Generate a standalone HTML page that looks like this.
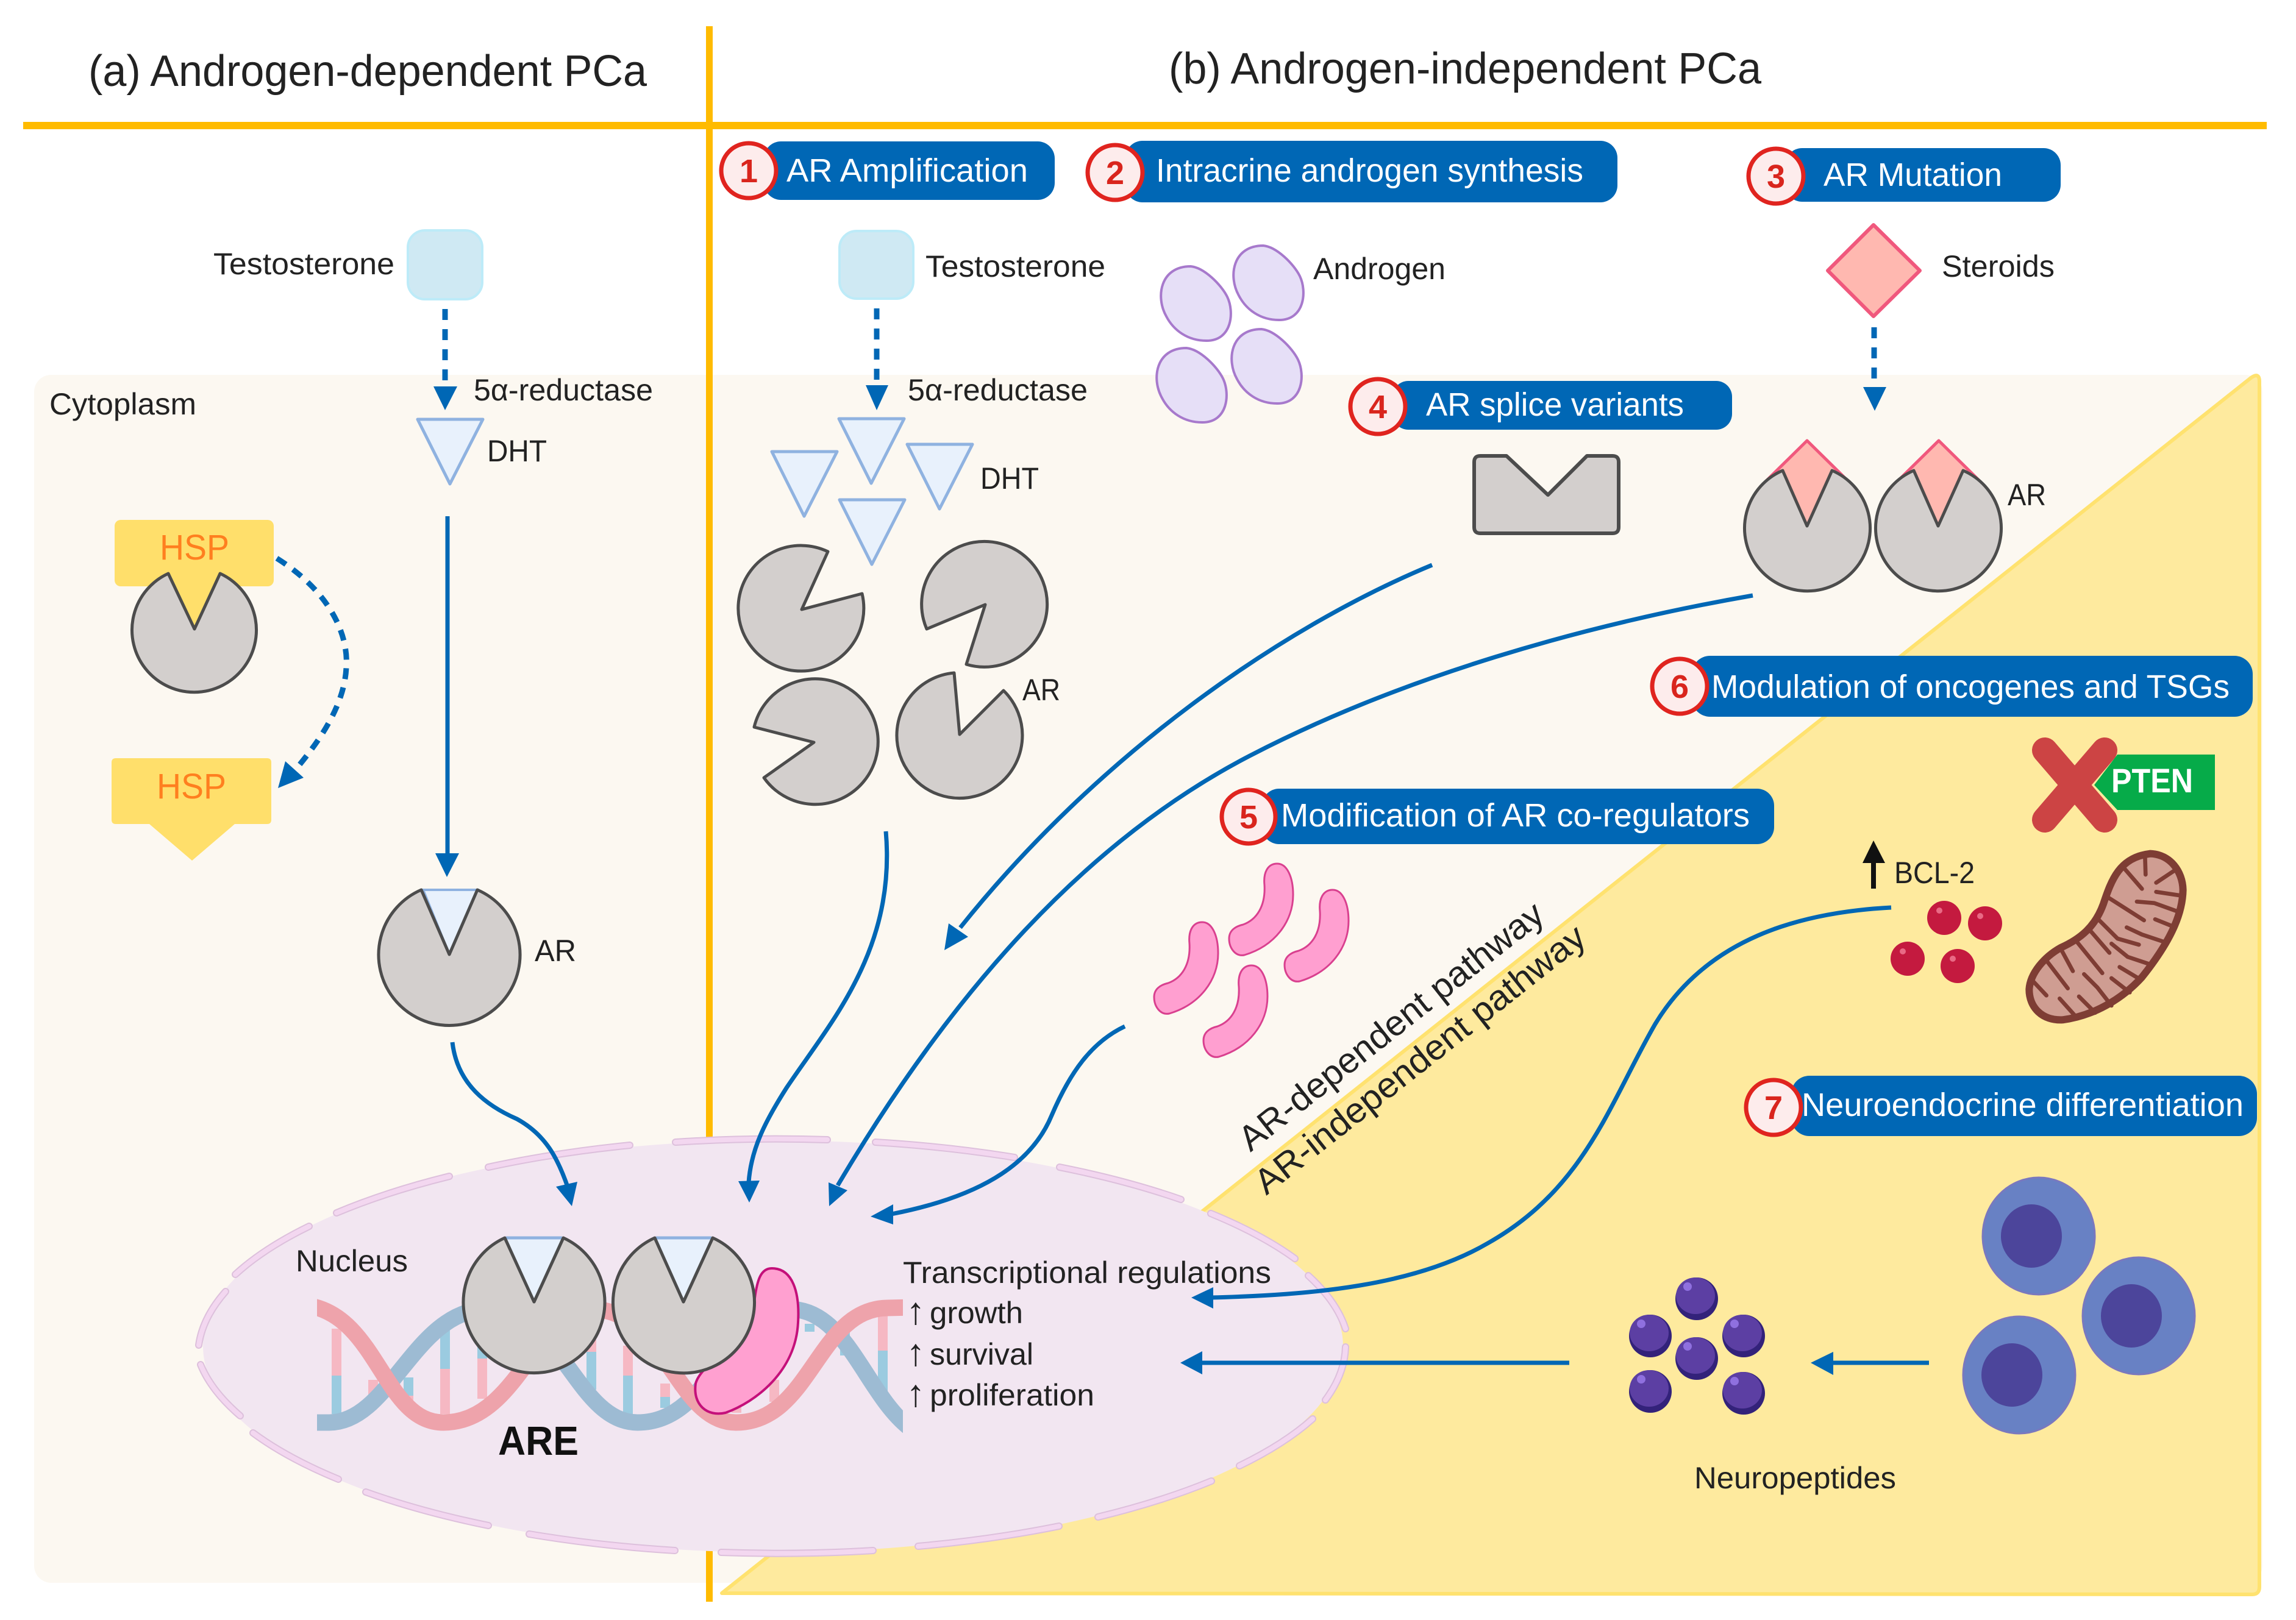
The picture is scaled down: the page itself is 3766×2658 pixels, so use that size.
<!DOCTYPE html>
<html><head><meta charset="utf-8"><style>html,body{margin:0;padding:0;background:#fff}svg{display:block}text{font-family:"Liberation Sans",sans-serif;fill:#222}.w{fill:#fff}.n{fill:#D9251D;font-weight:700;font-size:54px;text-anchor:middle}.b{stroke:#0067B5;stroke-width:7;fill:none}.h{fill:#0067B5}</style></head><body>
<svg xmlns="http://www.w3.org/2000/svg" width="3766" height="2658" viewBox="0 0 3766 2658">
<defs>
<path id="blob" d="M50,0 C72,2 100,30 110,50 C122,75 118,122 76,122 C45,122 22,105 10,82 C-8,50 0,0 50,0Z" fill="#E6DFF7" stroke="#A779CC" stroke-width="4"/>
<path id="worm" d="M79,0 C95,0 105,22 105,51 C105,95 75,135 25,150 C10,153 0,138 0,123 C0,110 10,103 23,100 C45,92 60,70 58,35 C56,15 63,0 79,0Z" fill="#FF9FD0" stroke="#D9408F" stroke-width="3"/>
<g id="sph"><circle r="35" fill="#33227A"/><ellipse cx="-2" cy="-5" rx="32" ry="30" fill="#5C3FA3"/><circle cx="-15" cy="-20" r="7" fill="#8F70DF"/></g>
<g id="red"><circle r="28" fill="#C41A3F"/><circle cx="-8" cy="-12" r="5" fill="#E96A85"/></g>
<g id="cell"><ellipse rx="92" ry="96" fill="#6881C4" stroke="#7A78BE" stroke-width="3"/><ellipse cx="-12" cy="0" rx="50" ry="52" fill="#4C459B"/></g>
<path id="tri" d="M0,0H107L53,106Z" fill="#E8F1FC" stroke="#8FB2E0" stroke-width="5" stroke-linejoin="round"/>
<clipPath id="dnaclip"><rect x="520" y="2100" width="961" height="280"/></clipPath>
</defs>

<!-- panels -->
<rect x="56" y="615" width="3655" height="1982" rx="28" fill="#FCF8F1"/>
<rect x="38" y="200" width="3680" height="12" fill="#FFBB00"/>
<rect x="1158" y="43" width="11" height="2585" fill="#FFBB00"/>
<path d="M1184,2614 L3692,620 Q3706,610 3706,626 V2604 Q3706,2616 3694,2616Z" fill="#FEEA9E" stroke="#FFE26F" stroke-width="6" stroke-linejoin="round"/>

<!-- titles -->
<text x="145" y="141" font-size="72" textLength="916" lengthAdjust="spacingAndGlyphs">(a) Androgen-dependent PCa</text>
<text x="1917" y="137" font-size="72" textLength="972" lengthAdjust="spacingAndGlyphs">(b) Androgen-independent PCa</text>

<!-- nucleus -->
<ellipse cx="1268" cy="2209" rx="935" ry="338" fill="#F2E6F1"/>
<g fill="none" stroke="#DDC0DC" stroke-width="12" stroke-linecap="round">
<path d="M1108,1874A945 345 0 0 1 1357,1870M1436,1874A945 345 0 0 1 1664,1899M1738,1915A945 345 0 0 1 1937,1968M1986,1991A945 345 0 0 1 2124,2065M2146,2093A945 345 0 0 1 2207,2180M2207,2210A945 345 0 0 1 2174,2297M2153,2328A945 345 0 0 1 2033,2405M1987,2430A945 345 0 0 1 1801,2489M1737,2504A945 345 0 0 1 1506,2537M1432,2544A945 345 0 0 1 1183,2547M1107,2544A945 345 0 0 1 868,2517M801,2503A945 345 0 0 1 600,2448M555,2427A945 345 0 0 1 415,2351M394,2323A945 345 0 0 1 329,2239M326,2207A945 345 0 0 1 370,2119M386,2091A945 345 0 0 1 507,2012M552,1990A945 345 0 0 1 737,1930M801,1915A945 345 0 0 1 1033,1879"/>
</g>
<g fill="none" stroke="#F3D7F0" stroke-width="8" stroke-linecap="round">
<path d="M1108,1874A945 345 0 0 1 1357,1870M1436,1874A945 345 0 0 1 1664,1899M1738,1915A945 345 0 0 1 1937,1968M1986,1991A945 345 0 0 1 2124,2065M2146,2093A945 345 0 0 1 2207,2180M2207,2210A945 345 0 0 1 2174,2297M2153,2328A945 345 0 0 1 2033,2405M1987,2430A945 345 0 0 1 1801,2489M1737,2504A945 345 0 0 1 1506,2537M1432,2544A945 345 0 0 1 1183,2547M1107,2544A945 345 0 0 1 868,2517M801,2503A945 345 0 0 1 600,2448M555,2427A945 345 0 0 1 415,2351M394,2323A945 345 0 0 1 329,2239M326,2207A945 345 0 0 1 370,2119M386,2091A945 345 0 0 1 507,2012M552,1990A945 345 0 0 1 737,1930M801,1915A945 345 0 0 1 1033,1879"/>
</g>

<!-- DNA rungs -->
<g stroke-width="16" fill="none">
<g stroke="#F6B8C3"><path d="M552,2180V2257M730,2246V2320M791,2229V2295M970,2198V2218M1030,2208V2257M1091,2270V2292M1448,2157V2216M1270,2264V2300M1208,2305V2318M1386,2172V2182M612,2264V2290M670,2290V2310"/></g>
<g stroke="#9BCBE0"><path d="M552,2257V2320M730,2172V2246M791,2208V2229M970,2218V2280M1030,2257V2320M1091,2292V2310M1448,2216V2305M1386,2182V2224M1328,2172V2185M612,2290V2305M670,2260V2290"/></g>
</g>
<!-- DNA strands -->
<g clip-path="url(#dnaclip)" fill="none" stroke-width="27">
<path d="M505,2334 L540,2334 C640,2334 680,2148 800,2148 C920,2148 945,2334 1046,2334 C1170,2334 1190,2148 1295,2148 C1390,2148 1420,2290 1495,2345" stroke="#9DBBD3"/>
<path d="M505,2142 C620,2160 630,2334 727,2334 C850,2334 880,2148 970,2148 C1090,2148 1110,2334 1207,2334 C1330,2334 1340,2148 1455,2146 L1495,2145" stroke="#EEA3AB"/>
</g>

<!-- coregulator on DNA -->
<path d="M1266,2081 C1300,2081 1312,2120 1309,2170 C1305,2250 1240,2300 1190,2318 C1160,2325 1136,2305 1141,2270 C1150,2235 1225,2205 1238,2130 C1242,2100 1248,2081 1266,2081Z" fill="#FFA0D0" stroke="#C4107A" stroke-width="4"/>

<!-- bound ARs -->
<g fill="#D3CFCD" stroke="#4C4C4C" stroke-width="5" stroke-linejoin="round">
<path d="M876,2136L924,2031A116 116 0 1 1 828,2031Z"/>
<path d="M1121,2136L1169,2031A116 116 0 1 1 1074,2031Z"/>
</g>
<g fill="#E8F1FC"><path d="M828,2031H924L876,2136Z"/><path d="M1074,2031H1169L1121,2136Z"/></g>
<g stroke="#8FB2E0" stroke-width="5"><path d="M830,2031H922M1076,2031H1167"/></g>
<g fill="none" stroke="#4C4C4C" stroke-width="5" stroke-linejoin="round"><path d="M828,2031L876,2136L924,2031M1074,2031L1121,2136L1169,2031"/></g>
<text x="485" y="2086" font-size="50" textLength="184" lengthAdjust="spacingAndGlyphs">Nucleus</text>
<text x="817" y="2387" font-size="67" font-weight="700" textLength="132" lengthAdjust="spacingAndGlyphs" style="fill:#111">ARE</text>
<text x="1481" y="2105" font-size="50" textLength="604" lengthAdjust="spacingAndGlyphs">Transcriptional regulations</text>
<text x="1502" y="2172" font-size="62" text-anchor="middle">↑</text><text x="1525" y="2171" font-size="50" textLength="153" lengthAdjust="spacingAndGlyphs">growth</text>
<text x="1502" y="2240" font-size="62" text-anchor="middle">↑</text><text x="1525" y="2239" font-size="50" textLength="170" lengthAdjust="spacingAndGlyphs">survival</text>
<text x="1502" y="2307" font-size="62" text-anchor="middle">↑</text><text x="1525" y="2306" font-size="50" textLength="270" lengthAdjust="spacingAndGlyphs">proliferation</text>

<!-- left column -->
<rect x="669" y="378" width="122" height="113" rx="28" fill="#CFE9F3" stroke="#BDEBF8" stroke-width="4"/>
<text x="350" y="450" font-size="50" textLength="297" lengthAdjust="spacingAndGlyphs">Testosterone</text>
<path d="M730,507V628" stroke="#0067B5" stroke-width="9" stroke-dasharray="18 15" fill="none"/>
<path d="M711,634H750L730,673Z" class="h"/>
<text x="777" y="657" font-size="50" textLength="294" lengthAdjust="spacingAndGlyphs">5α-reductase</text>
<text x="81" y="680" font-size="50" textLength="241" lengthAdjust="spacingAndGlyphs">Cytoplasm</text>
<use href="#tri" x="685" y="688"/>
<text x="799" y="757" font-size="50" textLength="98" lengthAdjust="spacingAndGlyphs">DHT</text>
<path d="M734,847V1405" class="b"/>
<path d="M714,1400H753L733,1439Z" class="h"/>

<rect x="188" y="853" width="261" height="109" rx="10" fill="#FFDF6B"/>
<path d="M276,941L319,1032L361,941Z" fill="#FFDF6B"/>
<path d="M319,1032L361,941A102 102 0 1 1 276,941Z" fill="#D3CFCD" stroke="#4C4C4C" stroke-width="5" stroke-linejoin="round"/>
<text x="262" y="918" font-size="58" style="fill:#FF7F1F" textLength="114" lengthAdjust="spacingAndGlyphs">HSP</text>
<path d="M454,916 C540,970 572,1040 568,1095 C565,1160 520,1220 487,1260" fill="none" stroke="#0067B5" stroke-width="9" stroke-dasharray="18 14"/>
<path d="M456,1293L468,1249L498,1276Z" class="h"/>
<path d="M190,1244H438Q445,1244 445,1251V1345Q445,1352 438,1352H385L315,1412L245,1352H190Q183,1352 183,1345V1251Q183,1244 190,1244Z" fill="#FFDF6B"/>
<text x="257" y="1310" font-size="58" style="fill:#FF7F1F" textLength="114" lengthAdjust="spacingAndGlyphs">HSP</text>

<path d="M694,1460H783L737,1566Z" fill="#E8F1FC" stroke="#8FB2E0" stroke-width="4"/>
<path d="M737,1566L783,1460A116 116 0 1 1 691,1460Z" fill="#D3CFCD" stroke="#4C4C4C" stroke-width="5" stroke-linejoin="round"/>
<text x="877" y="1577" font-size="50" textLength="68" lengthAdjust="spacingAndGlyphs">AR</text>
<path d="M742,1710 C750,1780 800,1815 848,1836 C895,1862 915,1900 932,1950" class="b"/>
<path d="M938,1979L912,1947L947,1939Z" class="h"/>

<!-- pills -->
<rect x="1253" y="232" width="477" height="96" rx="28" class="h"/>
<circle cx="1228" cy="280" r="45" fill="#FDECEC" stroke="#E0241F" stroke-width="7"/>
<text x="1228" y="299" class="n" style="fill:#D9251D">1</text>
<text x="1290" y="298" font-size="54" textLength="396" lengthAdjust="spacingAndGlyphs" style="fill:#fff">AR Amplification</text>

<rect x="1846" y="231" width="807" height="101" rx="28" class="h"/>
<circle cx="1829" cy="283" r="45" fill="#FDECEC" stroke="#E0241F" stroke-width="7"/>
<text x="1829" y="302" class="n" style="fill:#D9251D">2</text>
<text x="1896" y="298" font-size="54" textLength="701" lengthAdjust="spacingAndGlyphs" style="fill:#fff">Intracrine androgen synthesis</text>

<rect x="2928" y="243" width="452" height="88" rx="28" class="h"/>
<circle cx="2913" cy="289" r="45" fill="#FDECEC" stroke="#E0241F" stroke-width="7"/>
<text x="2913" y="308" class="n" style="fill:#D9251D">3</text>
<text x="2991" y="305" font-size="54" textLength="293" lengthAdjust="spacingAndGlyphs" style="fill:#fff">AR Mutation</text>

<rect x="2284" y="625" width="557" height="80" rx="26" class="h"/>
<circle cx="2260" cy="667" r="45" fill="#FDECEC" stroke="#E0241F" stroke-width="7"/>
<text x="2260" y="686" class="n" style="fill:#D9251D">4</text>
<text x="2339" y="682" font-size="54" textLength="423" lengthAdjust="spacingAndGlyphs" style="fill:#fff">AR splice variants</text>

<rect x="2070" y="1294" width="840" height="91" rx="28" class="h"/>
<circle cx="2048" cy="1340" r="44" fill="#FDECEC" stroke="#E0241F" stroke-width="7"/>
<text x="2048" y="1359" class="n" style="fill:#D9251D">5</text>
<text x="2101" y="1356" font-size="54" textLength="769" lengthAdjust="spacingAndGlyphs" style="fill:#fff">Modification of AR co-regulators</text>

<rect x="2775" y="1076" width="920" height="100" rx="30" class="h"/>
<circle cx="2755" cy="1126" r="45" fill="#FDECEC" stroke="#E0241F" stroke-width="7"/>
<text x="2755" y="1145" class="n" style="fill:#D9251D">6</text>
<text x="2807" y="1145" font-size="54" textLength="850" lengthAdjust="spacingAndGlyphs" style="fill:#fff">Modulation of oncogenes and TSGs</text>

<rect x="2938" y="1765" width="764" height="99" rx="30" class="h"/>
<circle cx="2909" cy="1817" r="45" fill="#FDECEC" stroke="#E0241F" stroke-width="7"/>
<text x="2909" y="1836" class="n" style="fill:#D9251D">7</text>
<text x="2955" y="1831" font-size="54" textLength="725" lengthAdjust="spacingAndGlyphs" style="fill:#fff">Neuroendocrine differentiation</text>

<!-- column 1 -->
<rect x="1377" y="379" width="121" height="111" rx="28" fill="#CFE9F3" stroke="#BDEBF8" stroke-width="4"/>
<text x="1518" y="454" font-size="50" textLength="295" lengthAdjust="spacingAndGlyphs">Testosterone</text>
<path d="M1438,506V626" stroke="#0067B5" stroke-width="9" stroke-dasharray="18 15" fill="none"/>
<path d="M1420,632H1457L1438,673Z" class="h"/>
<text x="1489" y="657" font-size="50" textLength="295" lengthAdjust="spacingAndGlyphs">5α-reductase</text>
<use href="#tri" x="1376" y="687"/><use href="#tri" x="1266" y="741"/><use href="#tri" x="1488" y="729"/><use href="#tri" x="1377" y="820"/>
<text x="1608" y="802" font-size="50" textLength="96" lengthAdjust="spacingAndGlyphs">DHT</text>
<g fill="#D3CFCD" stroke="#4C4C4C" stroke-width="5" stroke-linejoin="round">
<path d="M1315,1000L1414,974A103 103 0 1 1 1358,905Z"/>
<path d="M1616,992L1520,1032A103 103 0 1 1 1585,1090Z"/>
<path d="M1335,1218L1237,1193A103 103 0 1 1 1253,1276Z"/>
<path d="M1574,1205L1646,1133A103 103 0 1 1 1565,1104Z"/>
</g>
<text x="1677" y="1149" font-size="50" textLength="62" lengthAdjust="spacingAndGlyphs">AR</text>
<path d="M1453,1364 C1470,1560 1360,1680 1290,1785 C1255,1840 1232,1885 1228,1940" class="b"/>
<path d="M1229,1973L1211,1938L1246,1937Z" class="h"/>

<!-- androgen -->
<use href="#blob" x="1903" y="437"/><use href="#blob" x="2022" y="403"/><use href="#blob" x="1896" y="571"/><use href="#blob" x="2019" y="540"/>
<text x="2154" y="458" font-size="50" textLength="217" lengthAdjust="spacingAndGlyphs">Androgen</text>

<!-- splice -->
<path d="M2428,748H2471L2539,812L2603,748H2645Q2655,748 2655,758V865Q2655,875 2645,875H2428Q2418,875 2418,865V758Q2418,748 2428,748Z" fill="#D3CFCD" stroke="#4C4C4C" stroke-width="6" stroke-linejoin="round"/>
<path d="M2349,927 C2100,1030 1800,1240 1575,1522" class="b"/>
<path d="M1549,1559L1556,1515L1588,1537Z" class="h"/>
<path d="M2875,977 C2600,1025 2300,1110 2050,1240 C1780,1380 1560,1630 1374,1945" class="b"/>
<path d="M1360,1979L1359,1940L1390,1953Z" class="h"/>

<!-- AR mutation -->
<path d="M3073,369L3149,444L3073,519L2998,444Z" fill="#FFB8B0" stroke="#F0587D" stroke-width="6" stroke-linejoin="round"/>
<text x="3185" y="454" font-size="50" textLength="185" lengthAdjust="spacingAndGlyphs">Steroids</text>
<path d="M3074,537V628" stroke="#0067B5" stroke-width="9" stroke-dasharray="18 15" fill="none"/>
<path d="M3056,635H3094L3075,674Z" class="h"/>
<g fill="#FFB8B0" stroke="#F0587D" stroke-width="5" stroke-linejoin="round"><path d="M2964,723L3030,788L2964,863L2898,788Z"/><path d="M3180,723L3246,788L3180,863L3114,788Z"/></g>
<g fill="#D3CFCD" stroke="#4C4C4C" stroke-width="5" stroke-linejoin="round">
<path d="M2964,863L3005,772A103 103 0 1 1 2924,772Z"/>
<path d="M3179,863L3220,772A103 103 0 1 1 3139,772Z"/>
</g>
<text x="3293" y="829" font-size="50" textLength="63" lengthAdjust="spacingAndGlyphs">AR</text>

<!-- worms -->
<use href="#worm" x="2016" y="1417"/><use href="#worm" x="1893" y="1513"/><use href="#worm" x="2107" y="1460"/><use href="#worm" x="1974" y="1584"/>
<path d="M1845,1684 C1790,1710 1755,1760 1725,1830 C1690,1915 1600,1965 1462,1992" class="b"/>
<path d="M1428,1996L1465,1976L1465,2009Z" class="h"/>

<!-- rotated -->
<text transform="translate(2051,1891) rotate(-38.3)" font-size="58" textLength="619" lengthAdjust="spacingAndGlyphs">AR-dependent pathway</text>
<text transform="translate(2077,1962) rotate(-38.3)" font-size="58" textLength="673" lengthAdjust="spacingAndGlyphs">AR-independent pathway</text>

<!-- PTEN -->
<g stroke="#CC4444" stroke-width="42" stroke-linecap="round"><path d="M3354,1231L3452,1345M3452,1231L3354,1345"/></g>
<path d="M3473,1238H3633V1329H3473L3435,1288Z" fill="#06AB49"/>
<text x="3463" y="1300" font-size="56" font-weight="700" textLength="134" lengthAdjust="spacingAndGlyphs" style="fill:#fff">PTEN</text>

<!-- BCL-2 -->
<path d="M3073,1458V1412" stroke="#111" stroke-width="8"/>
<path d="M3073,1379L3092,1416H3055Z" fill="#111"/>
<text x="3107" y="1449" font-size="50" textLength="132" lengthAdjust="spacingAndGlyphs">BCL-2</text>
<use href="#red" x="3189" y="1506"/><use href="#red" x="3256" y="1515"/><use href="#red" x="3129" y="1573"/><use href="#red" x="3211" y="1585"/>
<path d="M3102,1489 C2950,1497 2800,1540 2715,1680 C2640,1810 2600,1950 2440,2040 C2320,2110 2150,2125 1985,2129" class="b"/>
<path d="M1954,2129L1990,2112V2147Z" class="h"/>

<!-- mitochondrion -->
<g transform="translate(3300,1380) scale(0.3333)">
<path d="M680,62 C780,65 840,150 842,240 C840,340 800,470 640,670 C540,780 400,860 250,880 C150,885 85,820 85,730 C90,650 160,570 240,525 C340,480 410,420 450,310 C490,190 530,80 680,62Z" fill="#CF9D92" stroke="#7E3D34" stroke-width="36" stroke-linejoin="round"/>
<g fill="none" stroke="#7E3D34" stroke-width="20" stroke-linecap="round" stroke-linejoin="round">
<path d="M655,70L658,165M710,205L800,145M545,125L640,235M710,250L830,268M615,298L700,305L825,350M470,275L650,390M705,385L805,425M565,425L640,460L760,500M425,385L520,480L625,510M490,505L570,570L690,610M385,440L480,550M315,490L445,650M530,620L630,680M235,520L300,640M355,655L420,720L490,810M490,675L580,745M160,575L275,725M330,765L410,845M235,775L320,870M95,680L170,760"/>
</g>
</g>

<!-- neuropeptides -->
<use href="#sph" x="2783" y="2131"/><use href="#sph" x="2707" y="2192"/><use href="#sph" x="2860" y="2192"/><use href="#sph" x="2783" y="2229"/><use href="#sph" x="2707" y="2283"/><use href="#sph" x="2860" y="2286"/>
<text x="2779" y="2442" font-size="50" textLength="331" lengthAdjust="spacingAndGlyphs">Neuropeptides</text>
<path d="M2574,2236H1965" class="b"/>
<path d="M1936,2236L1972,2217V2255Z" class="h"/>
<path d="M3164,2236H3000" class="b"/>
<path d="M2970,2236L3007,2218V2256Z" class="h"/>
<use href="#cell" x="3344" y="2028"/><use href="#cell" x="3508" y="2159"/><use href="#cell" x="3312" y="2256"/>
</svg>
</body></html>
